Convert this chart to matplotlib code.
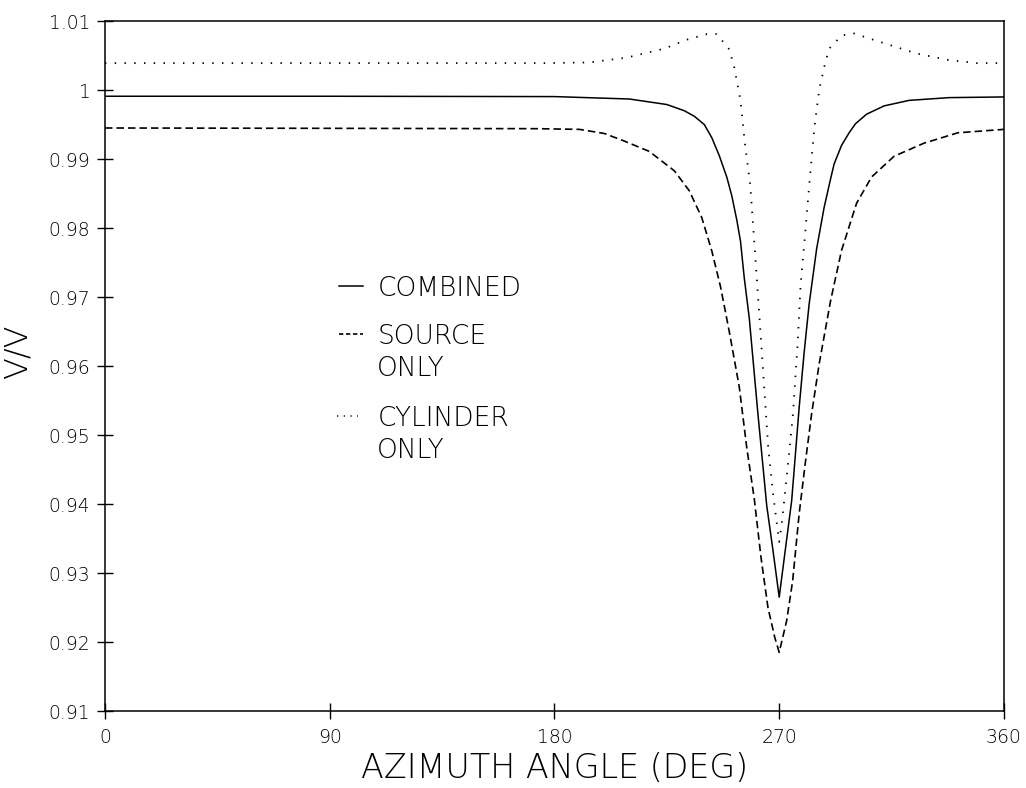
import matplotlib
matplotlib.use("Agg")
import matplotlib.pyplot as plt

# azimuth sweep, velocity ratio for the three cases
ang_comb = [0, 90, 180, 210, 225, 232, 236, 240, 243, 246, 249, 251, 253,
            254.5, 256, 258, 261.5, 265, 267.5, 270, 272.5, 275, 278,
            280, 282, 285, 288, 290.5, 292, 295, 298, 300.5, 305, 312, 322,
            338, 360]
v_comb = [0.9991, 0.9991, 0.99905, 0.9987, 0.9979, 0.9970, 0.9962, 0.9950,
          0.9931, 0.9905, 0.9874, 0.9847, 0.9812, 0.9781, 0.9728, 0.9670,
          0.9530, 0.9398, 0.9333, 0.9265, 0.9335, 0.9405, 0.9540,
          0.9620, 0.9690, 0.9770, 0.9830, 0.9870, 0.9893, 0.9920, 0.9938,
          0.9951, 0.9965, 0.9977, 0.9985, 0.9989, 0.9990]

ang_src = [0, 90, 173, 190, 200, 208, 218, 228, 234, 239, 243, 246.5, 250,
           254, 257, 260, 262.7, 265.5, 268.2, 270, 273, 275.4, 278, 280.4,
           283, 286, 290.6, 295, 301, 307, 316, 328, 341.5, 360]
v_src = [0.9945, 0.99445, 0.9944, 0.9943, 0.9937, 0.9926, 0.9911, 0.9883,
         0.9854, 0.9815, 0.9767, 0.9715, 0.9650, 0.9570, 0.9482, 0.9408,
         0.9323, 0.9250, 0.9207, 0.9185, 0.9231, 0.9289, 0.9386, 0.9458,
         0.9531, 0.9603, 0.9695, 0.9768, 0.9836, 0.9874, 0.9904, 0.9923,
         0.9938, 0.9943]

ang_cyl = [0, 90, 176, 194, 209, 224, 233, 241, 245, 250, 252, 254.5, 256.3,
           258.4, 260.1, 261.9, 263.8, 265.6, 267.7, 270, 271, 273.3, 275.5,
           277.3, 278.6, 280.4, 282.3, 284.1, 286, 288, 290, 295, 300, 305,
           314.5, 325, 337, 349, 360]
v_cyl = [1.0039, 1.0039, 1.0039, 1.0040, 1.0047, 1.0060, 1.0073, 1.0081,
         1.0081, 1.0059, 1.0033, 0.9985, 0.9921, 0.9863, 0.9776, 0.9681,
         0.9579, 0.9482, 0.9410, 0.9345, 0.9371, 0.9449, 0.9530, 0.9627,
         0.9719, 0.9792, 0.9874, 0.9946, 1.0000, 1.0033, 1.0060, 1.0079,
         1.0082, 1.0076, 1.0065, 1.0053, 1.0044, 1.0039, 1.0039]

xticks = [0, 90, 180, 270, 360]
yticks = [0.91, 0.92, 0.93, 0.94, 0.95, 0.96, 0.97, 0.98, 0.99, 1.0, 1.01]
ytick_labels = ["0.91", "0.92", "0.93", "0.94", "0.95", "0.96", "0.97",
                "0.98", "0.99", "1", "1.01"]

plt.rcParams['font.family'] = ['DejaVu Sans']
plt.rcParams['font.weight'] = 'light'
plt.rcParams['axes.labelweight'] = 'light'

fig = plt.figure(figsize=(10.26, 7.88), dpi=100)
ax = fig.add_axes([0.1023, 0.0977, 0.8762, 0.8756])

ax.plot(ang_comb, v_comb, color="black", lw=1.1)
ax.plot(ang_src, v_src, color="black", lw=1.2, dashes=(4.5, 2.4))
ax.plot(ang_cyl, v_cyl, color="black", lw=1.3, linestyle=(0, (0.8, 4.6)))

ax.set_xlim(0, 360)
ax.set_ylim(0.91, 1.01)
ax.set_xticks(xticks)
ax.set_xticklabels([str(t) for t in xticks])
ax.set_yticks(yticks)
ax.set_yticklabels(ytick_labels)
ax.tick_params(direction="inout", length=11, width=1, top=False,
               right=False, labelsize=13.5, color="black")
ax.tick_params(axis="x", pad=7)
ax.tick_params(axis="y", pad=5)
for sp in ax.spines.values():
    sp.set_linewidth(1.1)

ax.set_xlabel("AZIMUTH ANGLE (DEG)", fontsize=24)
ax.xaxis.set_label_coords(0.5, -0.06)
ax.set_ylabel("V/V", fontsize=23)
ax.yaxis.set_label_coords(-0.081, 0.52)

# hand-placed key
kx0, kx1, tx = 0.26, 0.287, 0.303
ax.plot([kx0, kx1], [0.616, 0.616], color="black", lw=1.1,
        transform=ax.transAxes)
ax.plot([kx0, kx1], [0.5464, 0.5464], color="black", lw=1.2,
        dashes=(2.6, 1.6), transform=ax.transAxes)
ax.plot([kx0 - 0.002, kx1 - 0.006], [0.4275, 0.4275], color="black", lw=1.1,
        linestyle=(0, (0.8, 3.6)), transform=ax.transAxes)
key_lines = [("COMBINED", 0.6014), ("SOURCE", 0.5319), ("ONLY", 0.4855),
             ("CYLINDER", 0.4130), ("ONLY", 0.3667)]
for txt, yb in key_lines:
    ax.text(tx, yb, txt, transform=ax.transAxes, fontsize=19,
            va="baseline", ha="left")

fig.savefig("out.png", dpi=100)
